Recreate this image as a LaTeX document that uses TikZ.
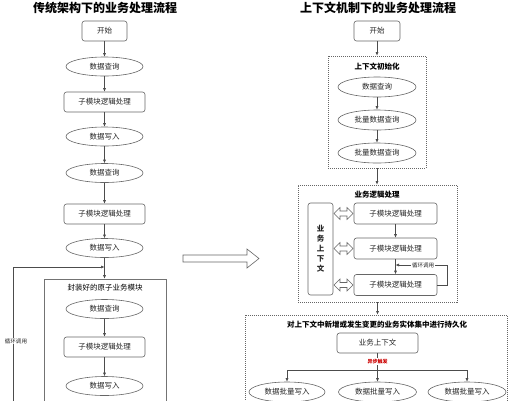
\documentclass[tikz,border=0pt]{standalone}
\usepackage{fontspec}
\setmainfont{Noto Sans CJK SC}
\usetikzlibrary{arrows.meta,shapes.geometric}
\begin{document}
\begin{tikzpicture}[x=1pt,y=-1pt,
  every node/.style={font=\fontsize{7.5}{9}\selectfont, text=black!85, inner sep=0pt},
  line/.style={draw=black!70, line width=0.6pt},
  arr/.style={line, -{Latex[length=3.5pt,width=3pt]}},
  box/.style={draw=black!60, line width=0.6pt, rounded corners=2.5pt, fill=white, minimum width=81pt, minimum height=20pt},
  oval/.style={draw=black!60, line width=0.6pt, ellipse, fill=white, minimum width=77pt, minimum height=19pt},
  dotbox/.style={draw=black!60, line width=0.7pt, dash pattern=on 1pt off 1pt},
  grpbox/.style={draw=black!55, line width=0.6pt},
  title/.style={font=\fontsize{12}{14}\selectfont\bfseries, text=black},
  grplabel/.style={font=\fontsize{7.5}{9}\selectfont\bfseries, text=black},
  small/.style={font=\fontsize{5.5}{6}\selectfont, fill=white, inner sep=0.8pt}
]
\useasboundingbox (0,0) rectangle (510,400);
\clip (0,0) rectangle (510,400);

% ---------------- left column ----------------
\node[title] (t1) at (105,8) {传统架构下的业务处理流程};
\node[box, minimum width=45pt] (ls) at (104.5,31) {开始};
\node[oval] (lq1) at (104.5,66.5) {数据查询};
\node[box] (lp1) at (104.5,102) {子模块逻辑处理};
\node[oval] (lw1) at (104.5,136.5) {数据写入};
\node[oval] (lq2) at (104.5,173) {数据查询};
\node[box] (lp2) at (104.5,214) {子模块逻辑处理};
\node[oval] (lw2) at (104.5,248) {数据写入};

\node[grpbox, minimum width=122pt, minimum height=141pt] (atom) at (105,349.5) {};
\node[grplabel, font=\fontsize{7.5}{9}\selectfont] (atoml) at (105,288) {封装好的原子业务模块};
\node[oval] (lq3) at (104.5,309) {数据查询};
\node[box] (lp3) at (104.5,347) {子模块逻辑处理};
\node[oval] (lw3) at (104.5,386) {数据写入};

\draw[arr] (ls) -- (lq1);
\draw[arr] (lq1) -- (lp1);
\draw[arr] (lp1) -- (lw1);
\draw[arr] (lw1) -- (lq2);
\draw[arr] (lq2) -- (lp2);
\draw[arr] (lp2) -- (lw2);
\draw[arr] (lw2.south) -- (atom.north -| lw2.south);
\draw[arr] (lq3) -- (lp3);
\draw[arr] (lp3) -- (lw3);

\coordinate (loopa) at (13,420);
\coordinate (loopb) at (104.5,267);
\draw[arr] (loopa) |- (loopb);
\node[small] (loopl) at (16,341) {循环调用};

% ---------------- big arrow ----------------
\draw[draw=black!60, line width=0.6pt, fill=white]
  (183,255) -- (247,255) -- (247,249) -- (259,258.5) -- (247,268) -- (247,262) -- (183,262) -- cycle;

% ---------------- right column ----------------
\node[title] (t2) at (378,8) {上下文机制下的业务处理流程};
\node[box, minimum width=46pt] (rs) at (377,31) {开始};

\node[dotbox, minimum width=98pt, minimum height=112pt] (init) at (377,112) {};
\node[grplabel] (initl) at (377,67) {上下文初始化};
\node[oval, minimum width=78pt, minimum height=20pt] (rq1) at (377,87) {数据查询};
\node[oval, minimum width=78pt, minimum height=20pt] (rq2) at (377,120) {批量数据查询};
\node[oval, minimum width=78pt, minimum height=20pt] (rq3) at (377,153) {批量数据查询};
\draw[arr] (rs) -- (init);
\draw[arr] (rq1) -- (rq2);
\draw[arr] (rq2) -- (rq3);

\node[dotbox, minimum width=159pt, minimum height=117pt] (logic) at (377.5,243.5) {};
\node[grplabel] (logicl) at (377,195) {业务逻辑处理};
\draw[arr] (init.south) -- (logic.north -| init.south);
\node[box, minimum width=25pt, minimum height=92pt, align=center,
      font=\fontsize{7.5}{10}\selectfont\bfseries] (ctx) at (320.5,249) {业\\务\\上\\下\\文};
\node[box, minimum width=83pt, minimum height=21pt] (s1) at (395.5,213.5) {子模块逻辑处理};
\node[box, minimum width=83pt, minimum height=21pt] (s2) at (395.5,248.5) {子模块逻辑处理};
\node[box, minimum width=83pt, minimum height=21pt] (s3) at (395.5,285) {子模块逻辑处理};
\draw[arr] (s1) -- (s2);
\draw[arr] (s2) -- (s3);
\coordinate (rloop) at (395.5,265);
\draw[arr] (s3.east) -- ++(10,0) |- (rloop);
\node[small] (rloopl) at (423,265) {循环调用};

\foreach \yy in {213.5,248.5,285}{
  \draw[draw=black!60, line width=0.6pt, fill=white]
   (334,\yy) -- (340,\yy-6) -- (340,\yy-2.5) -- (347,\yy-2.5) -- (347,\yy-6) -- (353,\yy)
   -- (347,\yy+6) -- (347,\yy+2.5) -- (340,\yy+2.5) -- (340,\yy+6) -- cycle;
}

\node[dotbox, minimum width=262pt, minimum height=110pt] (pers) at (376,370) {};
\node[grplabel] (persl) at (377,325) {对上下文中新增或发生变更的业务实体集中进行持久化};
\draw[arr] (logic.south) -- (pers.north -| logic.south);
\node[box] (ctx2) at (377.5,343) {业务上下文};
\node[oval, minimum width=76pt, minimum height=20pt] (b1) at (287,392) {数据批量写入};
\node[oval, minimum width=78pt, minimum height=20pt] (b2) at (377.5,392) {数据批量写入};
\node[oval, minimum width=78pt, minimum height=20pt] (b3) at (467,392) {数据批量写入};
\coordinate (hl) at (287,370);
\coordinate (hr) at (467,370);
\draw[line] (hl) -- (hr);
\draw[arr] (ctx2) -- (b2);
\draw[arr] (hl) -- (b1);
\draw[arr] (hr) -- (b3);
\node[font=\fontsize{5}{6}\selectfont\bfseries, text=red!80!black, fill=white, inner sep=0.8pt] (async) at (377.5,361.5) {异步触发};
\end{tikzpicture}
\end{document}
